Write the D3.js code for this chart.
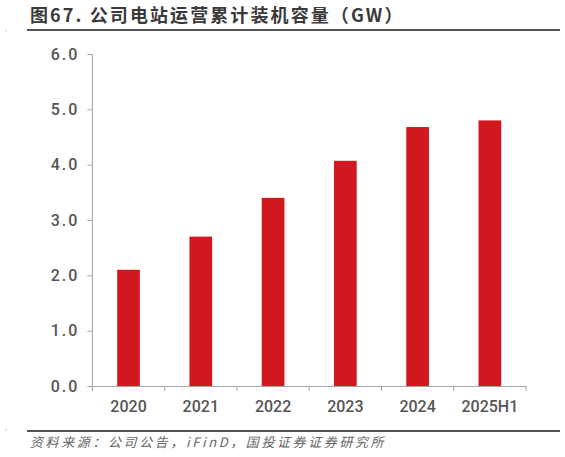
<!DOCTYPE html>
<html>
<head>
<meta charset="utf-8">
<script src="https://cdn.jsdelivr.net/npm/d3@7"></script>
<style>
  html, body { margin: 0; padding: 0; background: #fff; }
  svg { display: block; }
</style>
</head>
<body>
<svg id="chart" width="565" height="457"></svg>
<script>
const categories = ["2020", "2021", "2022", "2023", "2024", "2025H1"];
const capacity = [2.1, 2.7, 3.4, 4.07, 4.68, 4.8];
const yTicks = [0, 1, 2, 3, 4, 5, 6];
const titleText = "图67. 公司电站运营累计装机容量（GW）";
const sourceText = "资料来源：公司公告，iFinD，国投证券证券研究所";

const svg = d3.select("#chart");
const W = 565, H = 457;

const x = d3.scaleBand().domain(categories).range([92.4, 526]).padding(0);
const y = d3.scaleLinear().domain([0, 6]).range([386, 54]);
const barFrac = 0.314;
const axisColor = "#a6a6a6";

// title
svg.append("text")
  .attr("x", 30).attr("y", 22)
  .attr("font-family", "'Noto Sans CJK SC', sans-serif")
  .attr("font-size", 18)
  .attr("font-weight", "bold")
  .attr("letter-spacing", 2.1)
  .attr("fill", "#3a3a3a")
  .text(titleText);
svg.append("line")
  .attr("x1", 27).attr("x2", 560).attr("y1", 30).attr("y2", 30)
  .attr("stroke", "#1a1a1a").attr("stroke-width", 1.6);
svg.append("circle").attr("cx", 6).attr("cy", 31).attr("r", 0.7).attr("fill", "#bbb");

// bars
svg.append("g").selectAll("rect")
  .data(categories)
  .join("rect")
  .attr("x", (d) => x(d) + x.bandwidth() * (1 - barFrac) / 2)
  .attr("width", x.bandwidth() * barFrac)
  .attr("y", (d, i) => y(capacity[i]))
  .attr("height", (d, i) => y(0) - y(capacity[i]))
  .attr("fill", "#d2181f");

// y axis
const yAxis = svg.append("g")
  .attr("transform", `translate(${x.range()[0]},0)`)
  .call(d3.axisLeft(y).tickValues(yTicks).tickFormat(d3.format(".1f")).tickSize(5).tickPadding(8));
yAxis.select(".domain").remove();
yAxis.selectAll(".tick line").attr("stroke", axisColor);
yAxis.selectAll(".tick text")
  .attr("font-family", "Roboto, 'Liberation Sans', sans-serif")
  .attr("font-size", 16)
  .attr("font-weight", 500)
  .attr("letter-spacing", 2)
  .attr("fill", "#555");
svg.append("line")
  .attr("x1", x.range()[0]).attr("x2", x.range()[0])
  .attr("y1", y(6)).attr("y2", y(0) + 5)
  .attr("stroke", axisColor).attr("stroke-width", 1);

// x axis
const xAxis = svg.append("g")
  .attr("transform", `translate(0,${y(0)})`)
  .call(d3.axisBottom(x).tickSize(0).tickPadding(15));
xAxis.select(".domain").attr("stroke", axisColor);
xAxis.selectAll(".tick text")
  .attr("font-family", "Roboto, 'Liberation Sans', sans-serif")
  .attr("font-size", 16)
  .attr("font-weight", 500)
  .attr("fill", "#555");
const bounds = categories.map((c) => x(c)).concat([x.range()[1]]);
svg.append("g").selectAll("line")
  .data(bounds)
  .join("line")
  .attr("x1", (d) => d).attr("x2", (d) => d)
  .attr("y1", y(0)).attr("y2", y(0) + 5)
  .attr("stroke", axisColor);

// footer
svg.append("line")
  .attr("x1", 27).attr("x2", 560).attr("y1", 431).attr("y2", 431)
  .attr("stroke", "#1a1a1a").attr("stroke-width", 1.6);
svg.append("circle").attr("cx", 6).attr("cy", 430).attr("r", 0.7).attr("fill", "#bbb");
svg.append("text")
  .attr("x", 30).attr("y", 447)
  .attr("font-family", "'Noto Sans CJK SC', sans-serif")
  .attr("font-size", 13)
  .attr("font-style", "italic")
  .attr("letter-spacing", 2.6)
  .attr("fill", "#666")
  .text(sourceText);
</script>
</body>
</html>
